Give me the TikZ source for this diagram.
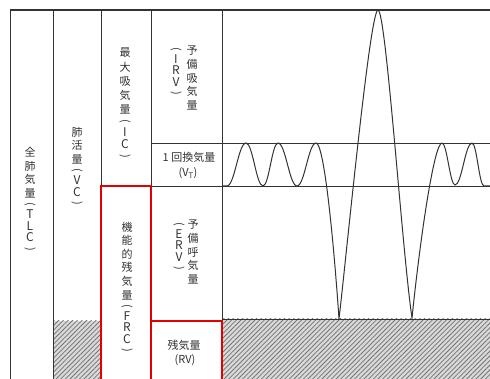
\documentclass[tikz,border=0pt]{standalone}
\usepackage{fontspec}
\newfontfamily\cjk{Noto Sans CJK JP}
\usetikzlibrary{patterns.meta}
\newcommand{\vlp}{\rotatebox[origin=c]{-90}{(}}
\newcommand{\vrp}{\rotatebox[origin=c]{-90}{)}}
\newcommand{\vL}[1]{{\fontsize{12}{14}\selectfont #1}}
\begin{document}
\begin{tikzpicture}[x=1pt,y=-1pt,
  ln/.style={draw=black!80, line width=0.9pt},
  redbox/.style={draw=red!90!black, line width=2.4pt},
  hatch/.style={pattern={Lines[angle=45,distance=3.3pt,line width=0.8pt]}, pattern color=black!55},
  vlab/.style={font=\cjk\fontsize{11}{13.6}\selectfont, align=center, inner sep=0pt, text=black!80},
  hlab/.style={font=\cjk\fontsize{11}{12}\selectfont, inner sep=0pt, text=black!80}]
\useasboundingbox (0,0) rectangle (490,379);
\begin{scope}
\clip (0,0) rectangle (490,379);
% hatched areas
\fill[black!15] (53,321) rectangle (101,379);
\path[hatch] (53,321) rectangle (101,379);
\fill[black!15] (222,319) rectangle (490,379);
\path[hatch] (222,319) rectangle (490,379);
% frame lines
\draw[ln, line width=1.3pt] (10,10) -- (490,10);
\draw[ln] (10,10) -- (10,379);
\draw[ln] (53,10) -- (53,379);
\draw[ln] (101,10) -- (101,186);
\draw[ln] (151,10) -- (151,186);
\draw[ln] (222,10) -- (222,319);
\draw[ln] (151,143) -- (490,143);
\draw[ln] (151,186) -- (490,186);
\draw[ln] (222,319) -- (490,319);
% red boxes
\draw[redbox] (101,390) -- (101,186) -- (151,186) -- (151,390);
\draw[redbox] (151,321) -- (222,321) -- (222,390);
% spirogram curve
\draw[ln, line width=1pt] (222,186) -- (227,186)
  .. controls (234.6,186) and (238.4,143) .. (246,143)
  .. controls (252.8,143) and (256.2,186) .. (263,186)
  .. controls (269,186) and (272,143) .. (278,143)
  .. controls (285.6,143) and (289.4,186) .. (297,186)
  .. controls (304.6,186) and (308.4,143) .. (316,143)
  .. controls (325,143) and (335,260) .. (339,319)
  .. controls (347,250) and (370,10) .. (378,10)
  .. controls (386,10) and (402,250) .. (412,318)
  .. controls (420,240) and (434,143) .. (442,143)
  .. controls (447,143) and (450,185) .. (455,185)
  .. controls (461.8,185) and (465.2,143) .. (472,143)
  .. controls (476.8,143) and (479.2,186) .. (484,186)
  -- (492,186);
\end{scope}
% vertical labels
\node[vlab] (tlc) at (30,200) {全\\肺\\気\\量\\[-3pt]\vlp\\[-3pt]\vL{T}\\[-2pt]\vL{L}\\[-2pt]\vL{C}\\[-3pt]\vrp};
\node[vlab] (vc) at (77,167) {肺\\活\\量\\[-3pt]\vlp\\[-3pt]\vL{V}\\[-2pt]\vL{C}\\[-3pt]\vrp};
\node[vlab, font=\cjk\fontsize{11}{14.3}\selectfont] (ic) at (125,104) {最\\大\\吸\\気\\量\\[-3pt]\vlp\\[-3pt]\vL{I}\\[-2pt]\vL{C}\\[-3pt]\vrp};
\node[vlab] (frc) at (127,288) {機\\能\\的\\残\\気\\量\\[-3pt]\vlp\\[-3pt]\vL{F}\\[-2pt]\vL{R}\\[-2pt]\vL{C}\\[-3pt]\vrp};
\node[vlab] (irv) at (192,78) {予\\備\\吸\\気\\量};
\node[vlab] (irvab) at (176,72) {\vlp\\[-3pt]\vL{I}\\[-2pt]\vL{R}\\[-2pt]\vL{V}\\[-3pt]\vrp};
\node[vlab] (erv) at (193,252) {予\\備\\呼\\気\\量};
\node[vlab] (ervab) at (179,247) {\vlp\\[-3pt]\vL{E}\\[-2pt]\vL{R}\\[-2pt]\vL{V}\\[-3pt]\vrp};
% horizontal labels
\node[hlab] (vt) at (189,157) {1 回換気量};
\node[hlab] (vtab) at (188,173) {(V\textsubscript{T})};
\node[hlab] (rv) at (184,345) {残気量};
\node[hlab] (rvab) at (185,360) {(RV)};
\end{tikzpicture}
\end{document}
